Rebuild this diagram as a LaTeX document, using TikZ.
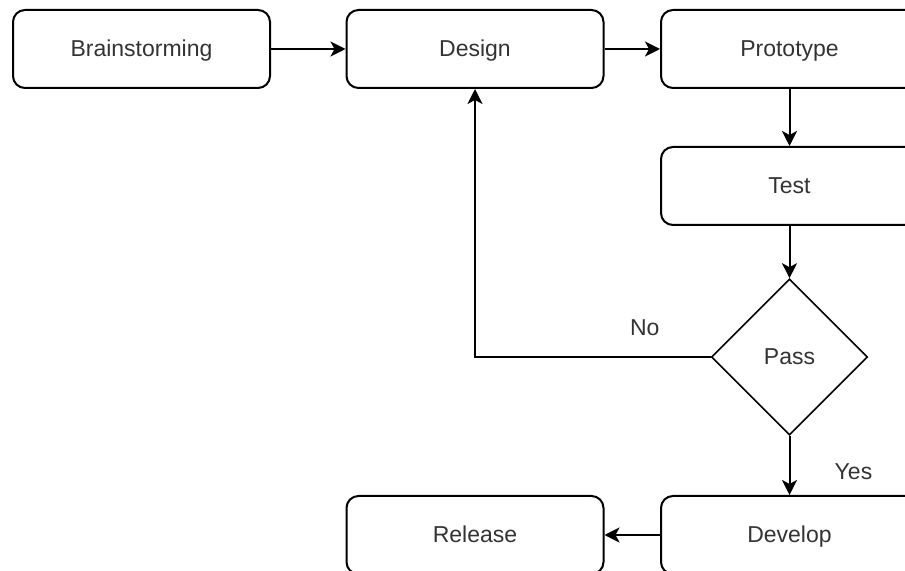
\documentclass[tikz,border=0pt]{standalone}
\usepackage{fontspec}
\setmainfont{Liberation Sans}
\usetikzlibrary{arrows.meta,shapes}
\tikzset{>={Stealth[length=7.5pt,width=7.5pt,inset=2pt]},draw=black,
  stepbox/.style={draw,rounded corners=6pt,line width=1pt,
    minimum width=128.5pt,minimum height=39pt,text=black!80,
    text height=1.8ex,text depth=0.3ex},
  decision/.style={draw,diamond,aspect=1,line width=0.8pt,inner sep=0pt,
    minimum width=78pt,minimum height=78pt,text=black!80},
  arrow/.style={->,line width=1pt},
  lbl/.style={text=black!80},
}

\begin{document}
\begin{tikzpicture}[x=0.5pt,y=-0.5pt,font=\fontsize{11.5}{14}\selectfont]
    \useasboundingbox (0,0) rectangle (905,571);
    \clip (0,0) rectangle (905,571);

    \node[stepbox] (brain) at (141.5,49) {Brainstorming};
    \node[stepbox] (design) at (475,49) {Design};
    \node[stepbox] (proto) at (789.5,49) {Prototype};
    \node[stepbox] (test) at (789.5,186) {Test};
    \node[decision] (pass) at (789.5,357) {Pass};
    \node[stepbox] (dev) at (789.5,535) {Develop};
    \node[stepbox] (release) at (475,535) {Release};

    \draw[arrow] (brain) -- (design);
    \draw[arrow] (design) -- (proto);
    \draw[arrow] (proto) -- (test);
    \draw[arrow] (test) -- (pass);
    % back to design when the test fails
    \draw[arrow] (pass.west) -| node[lbl,pos=0.14,yshift=14.5pt] {No} (design.south);
    \draw[arrow] (pass) -- node[lbl,pos=0.6,xshift=32pt] {Yes} (dev);
    \draw[arrow] (dev) -- (release);
\end{tikzpicture}
\end{document}
